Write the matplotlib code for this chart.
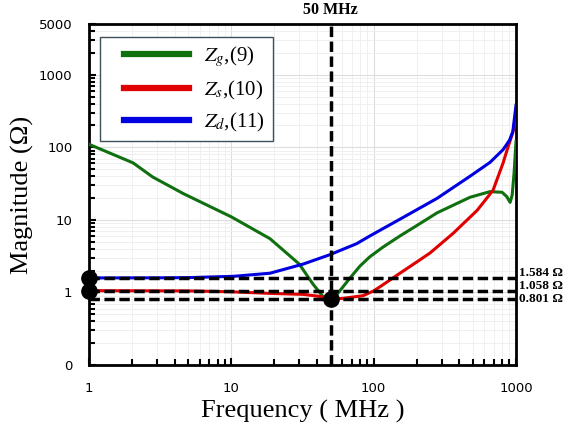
import matplotlib
matplotlib.use("Agg")
import matplotlib.pyplot as plt
from matplotlib.legend_handler import HandlerLine2D

# ---- data ----
freq_g = [1, 2.04, 2.8, 4.6, 10, 18.7, 30, 37.5, 44, 50, 56, 68, 80, 94, 116, 153, 200, 279,
          476, 657, 798, 860, 909, 940, 970, 1000]
zg = [110, 61, 39, 23, 11, 5.5, 2.46, 1.3, 0.88, 0.801, 0.97, 1.57, 2.3, 3.1, 4.2, 6.0, 8.3, 12.5,
      20.5, 24.5, 24, 21, 17.4, 22, 45, 120]

freq_s = [1, 5, 10, 18.7, 32, 42, 50, 61, 84, 100, 111, 153, 205, 249, 361, 533, 690, 812, 866,
          950, 1000]
zs = [1.058, 1.05, 1.02, 0.97, 0.94, 0.88, 0.801, 0.83, 0.9, 1.05, 1.2, 1.84, 2.7, 3.5, 6.5, 13.5,
      25.6, 61, 92, 160, 270]

freq_d = [1, 3, 5, 10.5, 18.7, 32, 49, 76, 94, 161, 279, 476, 657, 812, 900, 950, 1000]
zd = [1.584, 1.59, 1.6, 1.67, 1.84, 2.46, 3.3, 4.7, 6.0, 10.8, 19.8, 40, 62, 93, 125, 165, 380]

series_labels = [r"$Z_g$,(9)", r"$Z_s$,(10)", r"$Z_d$,(11)"]
series_colors = ["#107010", "#e00000", "#0000e0"]

ref_levels = [1.584, 1.058, 0.801]
ref_texts = ["1.584 Ω", "1.058 Ω", "0.801 Ω"]
ref_text_dy = [1.5, 1.0, -1.5]   # small vertical nudges (points)
mark_freq = 50

yticks = [0.1, 1, 10, 100, 1000, 5000]
ytick_labels = ["0", "1", "10", "100", "1000", "5000"]
xticks = [1, 10, 100, 1000]
xtick_labels = ["1", "10", "100", "1000"]

plt.rcParams['mathtext.fontset'] = 'stix'


class ShiftedLine(HandlerLine2D):
    def __init__(self, shift, **kw):
        super().__init__(**kw)
        self.shift = shift

    def create_artists(self, legend, orig_handle, xdescent, ydescent, width, height, fontsize, trans):
        return super().create_artists(legend, orig_handle, xdescent - self.shift, ydescent,
                                      width - self.shift, height, fontsize, trans)


fig = plt.figure(figsize=(5.83, 4.32), dpi=100)
ax = fig.add_axes([89/583, 1-365/432, (516-89)/583, (365-24)/432])
ax.set_xscale('log')
ax.set_yscale('log')
ax.set_xlim(1, 1000)
ax.set_ylim(0.1, 5000)

ax.grid(True, which='major', color='#dddddd', lw=0.8)
ax.grid(True, which='minor', color='#eeeeee', lw=0.6)
ax.set_axisbelow(True)

lines = []
for f, z, c, lab in zip([freq_g, freq_s, freq_d], [zg, zs, zd], series_colors, series_labels):
    ln, = ax.plot(f, z, color=c, lw=2.2, label=lab, zorder=3, solid_joinstyle='round')
    lines.append(ln)

dash = (0, (3, 1.3))
for lvl, txt, dy in zip(ref_levels, ref_texts, ref_text_dy):
    ax.plot([1, 1000], [lvl, lvl], color='black', lw=2.5, ls=dash, zorder=4)
    ax.annotate(txt, xy=(1.0, lvl), xycoords=('axes fraction', 'data'),
                xytext=(2, dy), textcoords='offset points',
                fontsize=9.5, fontweight='bold', family='Liberation Serif',
                ha='left', va='baseline', annotation_clip=False)
ax.plot([mark_freq, mark_freq], [0.1, 5000], color='black', lw=2.5, ls=dash, zorder=4)
ax.annotate("50 MHz", xy=(mark_freq, 1.0), xycoords=('data', 'axes fraction'),
            xytext=(0, 4), textcoords='offset points',
            fontsize=11.5, fontweight='bold', family='Liberation Serif',
            ha='center', va='bottom', annotation_clip=False)

ax.plot([1, 1], ref_levels[:2], 'o', color='black', ms=11, clip_on=False, zorder=6)
ax.plot([mark_freq], [ref_levels[2]], 'o', color='black', ms=11, clip_on=False, zorder=6)

ax.set_xticks(xticks)
ax.set_xticklabels(xtick_labels)
ax.set_yticks(yticks)
ax.set_yticklabels(ytick_labels)
ax.tick_params(which='both', direction='in', width=1.5, labelsize=9.5, top=False, right=False)
ax.tick_params(which='major', length=5, pad=12)
ax.tick_params(which='minor', length=4)
ax.tick_params(axis='y', which='minor', labelleft=False)
ax.tick_params(axis='x', which='minor', labelbottom=False)
for s in ax.spines.values():
    s.set_linewidth(2)
    s.set_color('black')

ax.set_xlabel("Frequency ( MHz )", family='Liberation Serif', fontsize=19, labelpad=4)
ax.set_ylabel("Magnitude (Ω)", family='Liberation Serif', fontsize=19)
ax.yaxis.set_label_coords(-0.128, 0.5)

leg = ax.legend(handles=lines, loc='upper left', bbox_to_anchor=(0.026, 0.962), borderaxespad=0,
                prop={'family': 'Liberation Serif', 'size': 15},
                handlelength=3.9, handletextpad=0.75, labelspacing=0.45,
                fancybox=False, framealpha=1, edgecolor='#40505a', borderpad=0.35,
                handler_map={ln: ShiftedLine(12) for ln in lines})
for h in leg.get_lines():
    h.set_linewidth(4.5)
leg.get_frame().set_linewidth(1.0)

fig.savefig("out.png", dpi=100)
